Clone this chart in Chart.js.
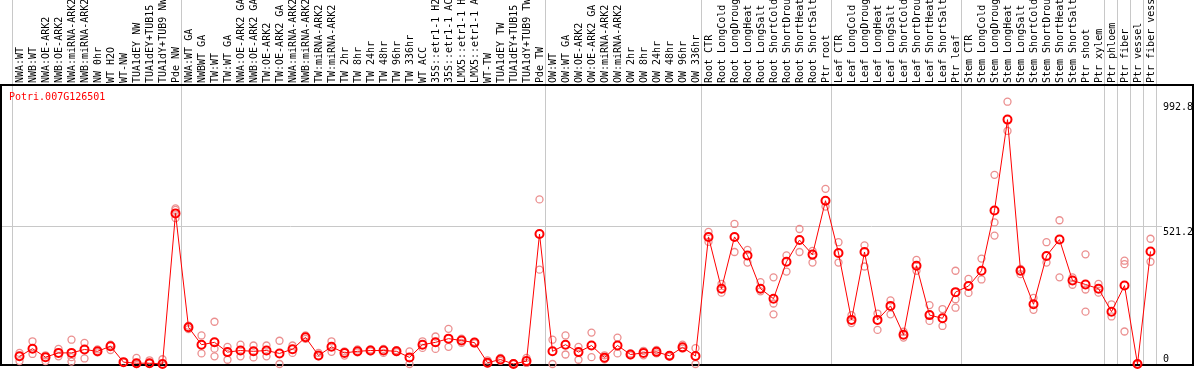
<!DOCTYPE html>
<html>
<head>
<meta charset="utf-8">
<script src="https://cdn.jsdelivr.net/npm/chart.js@4/dist/chart.umd.min.js"></script>
<style>
    html, body { margin: 0; padding: 0; background: #fff; }
</style>
</head>
<body>
<canvas id="grafico" width="1194" height="370"></canvas>
<script>

const geneName = "Potri.007G126501";

const categories = [
    "NWA:WT", "NWB:WT", "NWA:OE-ARK2", "NWB:OE-ARK2", "NWA:miRNA-ARK2", "NWB:miRNA-ARK2", "NW 0hr", "WT H2O", "WT-NW",
    "TUA1dEY NW", "TUA1dEY+TUB15 NW", "TUA1dY+TUB9 NW", "Pde NW",
    "NWA:WT GA", "NWBWT GA", "TW:WT", "TW:WT GA", "NWA:OE-ARK2 GA", "NWB:OE-ARK2 GA", "TW:OE-ARK2", "TW:OE-ARK2 GA",
    "NWA:miRNA-ARK2 GA", "NWB:miRNA-ARK2 GA", "TW:miRNA-ARK2", "TW:miRNA-ARK2 GA", "TW 2hr", "TW 8hr", "TW 24hr", "TW 48hr",
    "TW 96hr", "TW 336hr", "WT ACC", "35S::etr1-1 H2O", "35S::etr1-1 ACC", "LMX5::etr1-1 H2O", "LMX5::etr1-1 ACC", "WT-TW",
    "TUA1dEY TW", "TUA1dEY+TUB15 TW", "TUA1dY+TUB9 TW", "Pde TW",
    "OW:WT", "OW:WT GA", "OW:OE-ARK2", "OW:OE-ARK2 GA", "OW:miRNA-ARK2", "OW:miRNA-ARK2 GA", "OW 2hr", "OW 8hr", "OW 24hr",
    "OW 48hr", "OW 96hr", "OW 336hr",
    "Root CTR", "Root LongCold", "Root LongDrought", "Root LongHeat", "Root LongSalt", "Root ShortCold", "Root ShortDrought",
    "Root ShortHeat", "Root ShortSalt", "Ptr root",
    "Leaf CTR", "Leaf LongCold", "Leaf LongDrought", "Leaf LongHeat", "Leaf LongSalt", "Leaf ShortCold", "Leaf ShortDrought",
    "Leaf ShortHeat", "Leaf ShortSalt", "Ptr leaf",
    "Stem CTR", "Stem LongCold", "Stem LongDrought", "Stem LongHeat", "Stem LongSalt", "Stem ShortCold", "Stem ShortDrought",
    "Stem ShortHeat", "Stem ShortSalt", "Ptr shoot", "Ptr xylem", "Ptr phloem", "Ptr fiber", "Ptr vessel", "Ptr fiber vessel"
];

// mean expression (red line)
const meanValues = [
    29, 58, 26, 42, 42, 55, 48, 67, 7, 3, 3, 0, 570,
    139, 73, 82, 45, 51, 48, 51, 40, 56, 101, 32, 65, 42, 48, 51, 51, 48, 25, 73, 82, 96, 89, 81, 5, 17, 0, 11, 492,
    48, 73, 45, 70, 24, 70, 36, 42, 46, 31, 63, 30,
    481, 285, 481, 411, 285, 247, 387, 469, 414, 618,
    420, 167, 424, 167, 220, 111, 372, 185, 173, 272,
    295, 353, 581, 925, 353, 226, 409, 471, 316, 301, 285, 198, 297, 0, 426
];

// replicates (light circles)
const rep1 = [
    42, 86, 33, 57, 92, 80, 55, 73, 8, 23, 14, 18, 589,
    145, 108, 160, 65, 73, 70, 70, 88, 70, 108, 42, 86, 48, 55, 55, 57, 52, 48, 86, 104, 133, 96, 84, 14, 23, 3, 23, 623,
    92, 108, 65, 119, 33, 100, 40, 50, 53, 33, 73, 60,
    500, 303, 530, 432, 310, 328, 411, 511, 428, 663,
    461, 185, 449, 191, 241, 122, 394, 223, 208, 353,
    322, 399, 716, 992.8, 360, 250, 461, 544, 328, 415, 303, 226, 391, 0, 474
];
const rep2 = [
    11, 38, 11, 29, 26, 21, 44, 53, 6, 0, 2, 0, 583,
    132, 40, 58, 16, 29, 25, 29, 0, 42, 95, 29, 46, 32, 44, 48, 42, 45, 0, 61, 57, 65, 80, 78, 2, 12, 0, 4, 357,
    0, 36, 16, 26, 18, 40, 33, 33, 40, 28, 58, 0,
    462, 270, 424, 384, 275, 229, 350, 424, 384, 596,
    384, 155, 369, 129, 188, 100, 353, 163, 144, 245,
    269, 320, 536, 882, 340, 205, 384, 328, 300, 282, 270, 180, 378, 0, 387
];
const rep3 = [
    null, null, null, null, 9, null, null, null, null, null, null, null, 552,
    null, null, 29, null, null, null, null, null, null, null, null, null, null, null, null, null, null, null, null, null, null, null, null, null, null, null, null, null,
    null, null, null, null, null, null, null, null, null, null, null, null,
    null, null, null, null, null, 188, null, null, null, null,
    null, null, null, null, null, null, null, null, null, 213,
    null, null, 486, null, null, null, null, null, null, 198, null, null, 123, null, null
];

// first index of each block (grey separators)
const groupStarts = [0, 13, 41, 53, 63, 73, 84, 85, 86, 87, 88];
const yLabels = [0, 521.2, 992.8];
const yMax = 1056;

const monoFont = "'DejaVu Sans Mono', monospace";

const decorations = {
    id: 'decorations',
    beforeDatasetsDraw(chart) {
        const { ctx, chartArea, scales: { x, y } } = chart;
        ctx.save();
        ctx.lineWidth = 1;
        ctx.strokeStyle = '#c8c8c8';
        groupStarts.forEach(i => {
            const px = Math.round(x.getPixelForValue(i - 0.5)) - 0.5;
            ctx.beginPath();
            ctx.moveTo(px, 0);
            ctx.lineTo(px, chartArea.bottom);
            ctx.stroke();
        });
        const gy = Math.round(y.getPixelForValue(521.2)) + 0.5;
        ctx.beginPath();
        ctx.moveTo(0, gy);
        ctx.lineTo(chartArea.right + 5, gy);
        ctx.stroke();

        ctx.strokeStyle = '#000';
        ctx.lineWidth = 2;
        ctx.strokeRect(1, chartArea.top, chart.width - 2, chartArea.bottom - chartArea.top + 1);
        ctx.restore();
    },
    afterDraw(chart) {
        const { ctx, chartArea, scales: { y } } = chart;
        ctx.save();
        ctx.font = "10px " + monoFont;
        ctx.fillStyle = '#ff0000';
        ctx.textAlign = 'left';
        ctx.textBaseline = 'middle';
        ctx.fillText(geneName, 9, chartArea.top + 12);

        ctx.fillStyle = '#000';
        yLabels.forEach(v => {
            const py = y.getPixelForValue(v);
            ctx.textBaseline = v === 0 ? 'bottom' : 'top';
            ctx.fillText(String(v), chartArea.right + 6, v === 0 ? py : py + 1);
        });
        ctx.restore();
    }
};

function repSet(data) {
    return {
        type: 'line',
        data: data,
        showLine: false,
        pointRadius: 3.5,
        pointBorderWidth: 1.3,
        pointBorderColor: '#eb8f8f',
        pointBackgroundColor: 'rgba(0,0,0,0)',
        pointHoverRadius: 3.5,
        clip: 8,
        order: 2
    };
}

Chart.defaults.font.family = monoFont;
Chart.defaults.font.size = 10;
Chart.defaults.color = '#000';

const ctx = document.getElementById('grafico').getContext('2d');
const grafico = new Chart(ctx, {
    type: 'line',
    data: {
        labels: categories,
        datasets: [
            {
                data: meanValues,
                borderColor: '#ff0000',
                borderWidth: 1,
                tension: 0,
                pointRadius: 4,
                pointBorderWidth: 2,
                pointBorderColor: '#ff0000',
                pointBackgroundColor: 'rgba(0,0,0,0)',
                clip: 8,
                order: 1
            },
            repSet(rep1),
            repSet(rep2),
            repSet(rep3)
        ]
    },
    options: {
        responsive: false,
        animation: false,
        devicePixelRatio: 1,
        layout: {
            padding: { left: 13, right: 0, top: 0, bottom: 2 }
        },
        plugins: {
            legend: { display: false },
            tooltip: { enabled: false },
            title: { display: false }
        },
        scales: {
            x: {
                type: 'category',
                position: 'top',
                offset: true,
                grid: { display: false, drawTicks: false, tickLength: 0 },
                border: { display: false },
                ticks: {
                    autoSkip: false,
                    minRotation: 90,
                    maxRotation: 90,
                    padding: 2,
                    labelOffset: 13,
                    color: '#000',
                    font: { size: 10, family: monoFont }
                },
                afterFit: (scale) => { scale.height = 85; }
            },
            y: {
                position: 'right',
                min: 0,
                max: yMax,
                grid: { display: false },
                border: { display: false },
                ticks: { display: false },
                afterFit: (scale) => { scale.width = 37; }
            }
        }
    },
    plugins: [decorations]
});
</script>
</body>
</html>
